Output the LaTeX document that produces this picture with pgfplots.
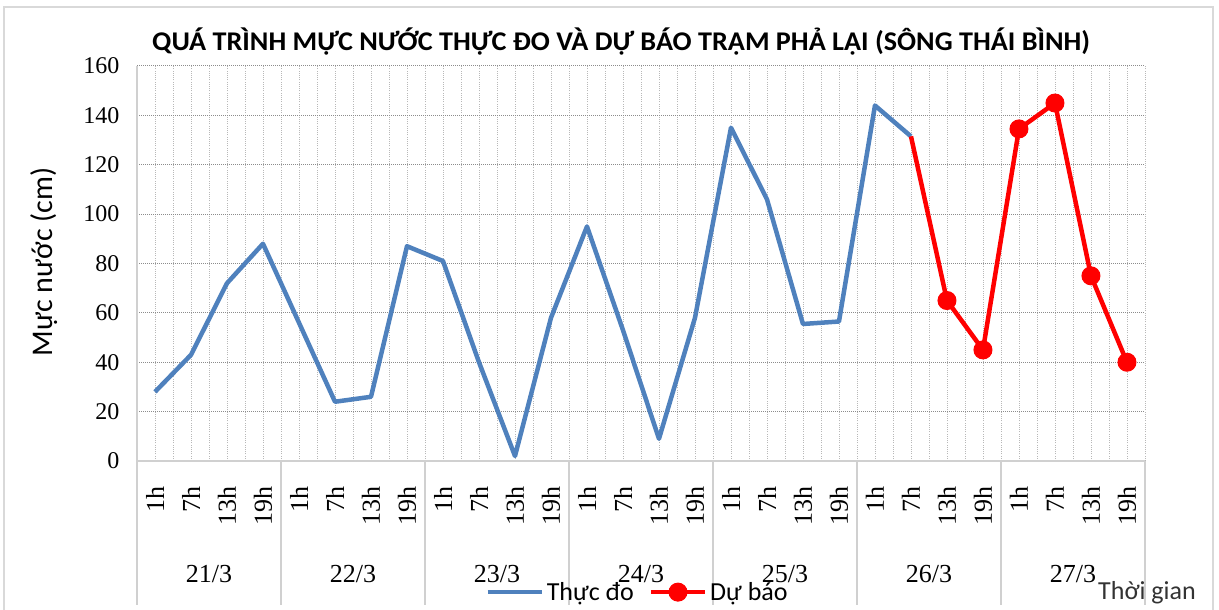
\documentclass[border=0pt]{standalone}
\usepackage{pgfplots}
\pgfplotsset{compat=1.18}
\usepackage{fontspec}
\usepackage{graphicx}
\setmainfont{Carlito}
\newfontfamily\serifnum{Liberation Serif}
\definecolor{blueline}{HTML}{4F81BD}
\definecolor{framec}{HTML}{D9D9D9}
\definecolor{hgrid}{HTML}{8C8C8C}
\definecolor{vgrid}{HTML}{B8B8B8}
\definecolor{sepc}{HTML}{D0D0D0}
\begin{document}
\begin{tikzpicture}[x=1pt,y=1pt]
\path[use as bounding box] (0,0) rectangle (1219,610);
\draw[framec, line width=1.5pt] (4,-5) -- (4,603) -- (1213,603) -- (1213,-5);
\node[anchor=base west, inner sep=0] at (152,559)
  {\resizebox{938pt}{\height}{\fontsize{27}{27}\selectfont\bfseries QUÁ TRÌNH MỰC NƯỚC THỰC ĐO VÀ DỰ BÁO TRẠM PHẢ LẠI (SÔNG THÁI BÌNH)}};
\node[rotate=90, anchor=base, inner sep=0, font=\fontsize{30}{30}\selectfont] at (52,348) {Mực nước (cm)};
\node[anchor=base west, inner sep=0, font=\fontsize{26}{26}\selectfont, text=black!80] at (1098,10) {Thời gian};
\begin{axis}[
  at={(137pt,149pt)}, anchor=south west,
  scale only axis, width=1008pt, height=395pt,
  xmin=-0.5, xmax=27.5, ymin=0, ymax=160,
  axis x line*=bottom, axis y line*=left,
  axis line style={draw=sepc, line width=1.3pt},
  xtick={0,...,27},
  xticklabels={1h,7h,13h,19h,1h,7h,13h,19h,1h,7h,13h,19h,1h,7h,13h,19h,1h,7h,13h,19h,1h,7h,13h,19h,1h,7h,13h,19h},
  minor xtick={-0.5,0.5,...,27.5},
  ytick={0,20,...,160},
  major tick length=0pt, minor tick length=0pt,
  xmajorgrids, xminorgrids, ymajorgrids,
  major x grid style={vgrid, dash pattern=on 1pt off 1.2pt, line width=0.8pt},
  minor x grid style={vgrid, dash pattern=on 1pt off 1.2pt, line width=0.8pt},
  major y grid style={hgrid, dash pattern=on 1pt off 1pt, line width=1pt},
  clip=false,
  /pgf/number format/assume math mode=true,
  yticklabel style={font=\serifnum\fontsize{24}{24}\selectfont, anchor=east, xshift=-14pt},
  xticklabel style={font=\serifnum\fontsize{26}{26}\selectfont, yshift=-22pt, rotate=90, anchor=east},
  legend columns=2,
  legend style={at={(0.497,-0.332)}, anchor=center, draw=none, fill=none,
    font=\fontsize{26}{26}\selectfont, inner sep=0pt,
    nodes={inner sep=3pt},
    /tikz/every even column/.append style={column sep=12pt}},
  legend image code/.code={\draw[#1,mark repeat=2,mark phase=2] plot coordinates {(0pt,0pt) (27pt,0pt) (54pt,0pt)};},
]
\addplot[blueline, line width=4.5pt, line join=round, no markers] coordinates {
(0,28) (1,43) (2,72) (3,88) (4,56) (5,24) (6,26) (7,87) (8,81) (9,40) (10,2)
(11,58) (12,95) (13,53) (14,9) (15,58) (16,135) (17,106) (18,55.5) (19,56.5)
(20,144) (21,131.5)};
\addlegendentry{Thực đo}
\addplot[red, line width=4.5pt, line join=round, mark=*, mark size=9pt,
  mark phase=2, mark repeat=1, mark options={solid, fill=red, draw=red, line width=1pt}] coordinates {
(21,131.5) (22,65) (23,45) (24,134.5) (25,145) (26,75) (27,40)};
\addlegendentry{Dự báo}
\pgfplotsinvokeforeach{-0.5,3.5,7.5,11.5,15.5,19.5,23.5,27.5}{
  \draw[sepc, line width=1.3pt] (axis cs:#1,0) -- ++(0pt,-144pt);
}
\node[anchor=base, font=\serifnum\fontsize{26}{26}\selectfont, yshift=-122pt] at (axis cs:1.5,0) {21/3};
\node[anchor=base, font=\serifnum\fontsize{26}{26}\selectfont, yshift=-122pt] at (axis cs:5.5,0) {22/3};
\node[anchor=base, font=\serifnum\fontsize{26}{26}\selectfont, yshift=-122pt] at (axis cs:9.5,0) {23/3};
\node[anchor=base, font=\serifnum\fontsize{26}{26}\selectfont, yshift=-122pt] at (axis cs:13.5,0) {24/3};
\node[anchor=base, font=\serifnum\fontsize{26}{26}\selectfont, yshift=-122pt] at (axis cs:17.5,0) {25/3};
\node[anchor=base, font=\serifnum\fontsize{26}{26}\selectfont, yshift=-122pt] at (axis cs:21.5,0) {26/3};
\node[anchor=base, font=\serifnum\fontsize{26}{26}\selectfont, yshift=-122pt] at (axis cs:25.5,0) {27/3};
\end{axis}
\end{tikzpicture}
\end{document}
